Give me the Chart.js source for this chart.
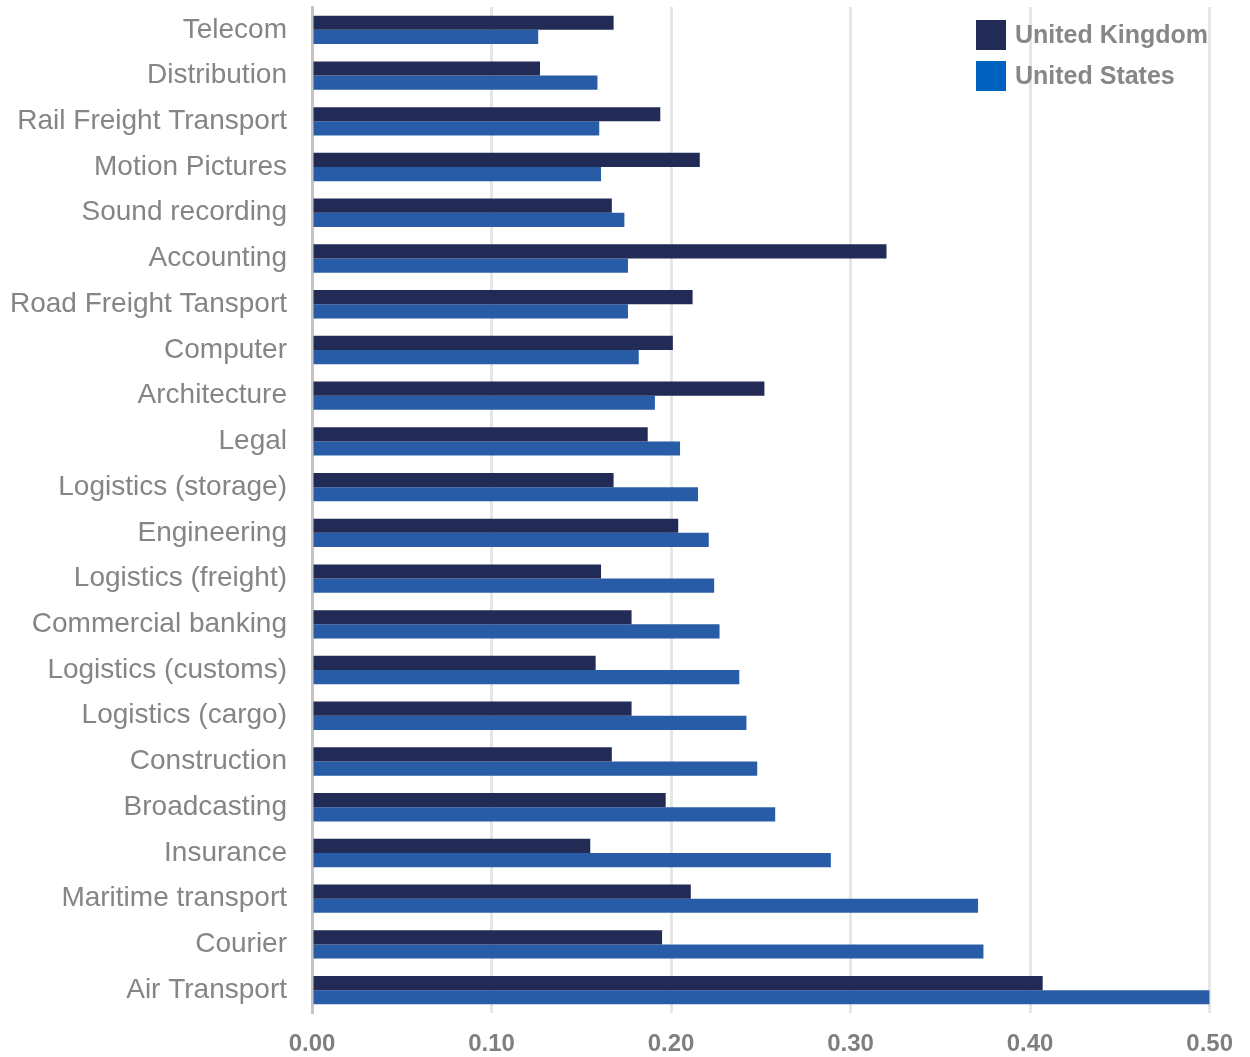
<!DOCTYPE html>
<html>
<head>
<meta charset="utf-8">
<script src="https://cdn.jsdelivr.net/npm/chart.js@4/dist/chart.umd.min.js"></script>
<style>
  html, body { margin: 0; padding: 0; background: #fff; }
  #wrap { width: 1250px; height: 1057px; }
</style>
</head>
<body>
<div id="wrap"><canvas id="chart"></canvas></div>
<script>
const categories = [
  "Telecom", "Distribution", "Rail Freight Transport", "Motion Pictures",
  "Sound recording", "Accounting", "Road Freight Tansport", "Computer",
  "Architecture", "Legal", "Logistics (storage)", "Engineering",
  "Logistics (freight)", "Commercial banking", "Logistics (customs)",
  "Logistics (cargo)", "Construction", "Broadcasting", "Insurance",
  "Maritime transport", "Courier", "Air Transport"
];
const ukValues = [
  0.168, 0.127, 0.194, 0.216, 0.167, 0.320, 0.212, 0.201, 0.252, 0.187, 0.168,
  0.204, 0.161, 0.178, 0.158, 0.178, 0.167, 0.197, 0.155, 0.211, 0.195, 0.407
];
const usValues = [
  0.126, 0.159, 0.160, 0.161, 0.174, 0.176, 0.176, 0.182, 0.191, 0.205, 0.215,
  0.221, 0.224, 0.227, 0.238, 0.242, 0.248, 0.258, 0.289, 0.371, 0.374, 0.500
];
const xTicks = [0, 0.1, 0.2, 0.3, 0.4, 0.5];

const seriesNames = ["United Kingdom", "United States"];
const barColors = ["#222a56", "#285ca7"];
const legendColors = ["#222a56", "#0061bf"];

// legend drawn inside the plot, top right, stacked
const sideLegend = {
  id: "sideLegend",
  afterDraw(chart) {
    const ctx = chart.ctx;
    ctx.save();
    ctx.font = "bold 25px 'Liberation Sans', Arial, sans-serif";
    ctx.textBaseline = "middle";
    ctx.textAlign = "left";
    chart.data.datasets.forEach((ds, i) => {
      const y = 20 + i * 41;
      ctx.fillStyle = legendColors[i];
      ctx.fillRect(976, y, 30, 30);
      ctx.fillStyle = "#878787";
      ctx.fillText(ds.label, 1015, y + 16);
    });
    ctx.restore();
  }
};

new Chart(document.getElementById("chart"), {
  type: "bar",
  data: {
    labels: categories,
    datasets: [
      { label: seriesNames[0], data: ukValues, backgroundColor: barColors[0] },
      { label: seriesNames[1], data: usValues, backgroundColor: barColors[1] }
    ]
  },
  options: {
    indexAxis: "y",
    responsive: true,
    maintainAspectRatio: false,
    animation: false,
    layout: { padding: { top: 7, right: 31, left: 0, bottom: 0 } },
    datasets: { bar: { categoryPercentage: 0.62, barPercentage: 1.0 } },
    plugins: {
      legend: { display: false },
      tooltip: { enabled: false }
    },
    scales: {
      x: {
        min: 0,
        max: 0.5,
        afterBuildTicks(axis) { axis.ticks = xTicks.map(v => ({ value: v })); },
        afterFit(axis) { axis.height = 44; },
        grid: { color: "#e6e6e6", lineWidth: 3, drawTicks: false },
        border: { display: false },
        ticks: {
          padding: 17,
          color: "#7f7f7f",
          font: { family: "'Liberation Sans', Arial, sans-serif", size: 24, weight: "bold" },
          callback: v => Number(v).toFixed(2)
        }
      },
      y: {
        afterFit(axis) {
          axis.width = 312;
          axis.paddingTop = 0;
          axis.paddingBottom = 0;
        },
        grid: { display: false },
        border: { display: true, color: "#c4c4c4", width: 3 },
        ticks: {
          padding: 17,
          color: "#858585",
          font: { family: "'Liberation Sans', Arial, sans-serif", size: 28 }
        }
      }
    }
  },
  plugins: [sideLegend]
});
</script>
</body>
</html>
